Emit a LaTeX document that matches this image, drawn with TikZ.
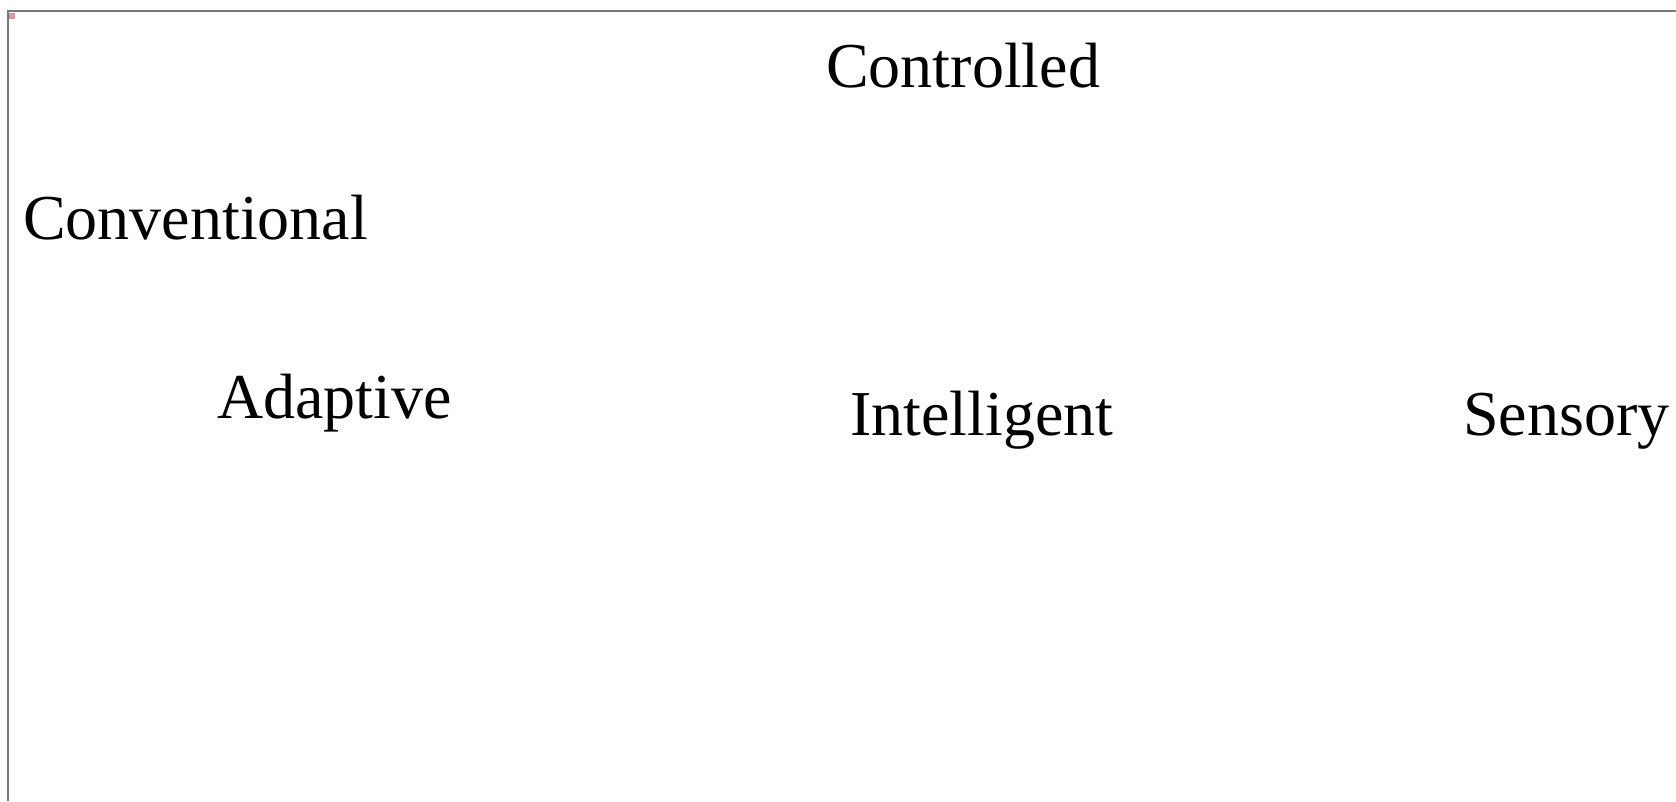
\documentclass[tikz,border=0pt]{standalone}
\usepackage{fontspec}
\setmainfont{Liberation Serif}
\begin{document}
\begin{tikzpicture}[x=1pt,y=-1pt,
  lbl/.style={anchor=base west,inner sep=0pt,font=\fontsize{64}{70}\selectfont},
  frameline/.style={draw={rgb,255:red,120;green,120;blue,120},line width=2pt}]
\useasboundingbox[fill=white] (0,0) rectangle (1676,801);
\coordinate (bl) at (7.5,801);
\coordinate (tl) at (7.5,10.5);
\coordinate (tr) at (1676,10.5);
\draw[frameline] (bl) -- (tl) -- (tr);
\node[draw={rgb,255:red,190;green,160;blue,160},fill={rgb,255:red,235;green,150;blue,150},minimum width=5pt,minimum height=5pt,inner sep=0pt,line width=0.6pt] (icon) at (12,15.5) {};
\node[lbl] (controlled) at (826,87) {Controlled};
\node[lbl] (conventional) at (23,239) {Conventional};
\node[lbl] (adaptive) at (217,418) {Adaptive};
\node[lbl] (intelligent) at (850,435) {Intelligent};
\node[lbl] (sensory) at (1463,435) {Sensory};
\end{tikzpicture}
\end{document}
